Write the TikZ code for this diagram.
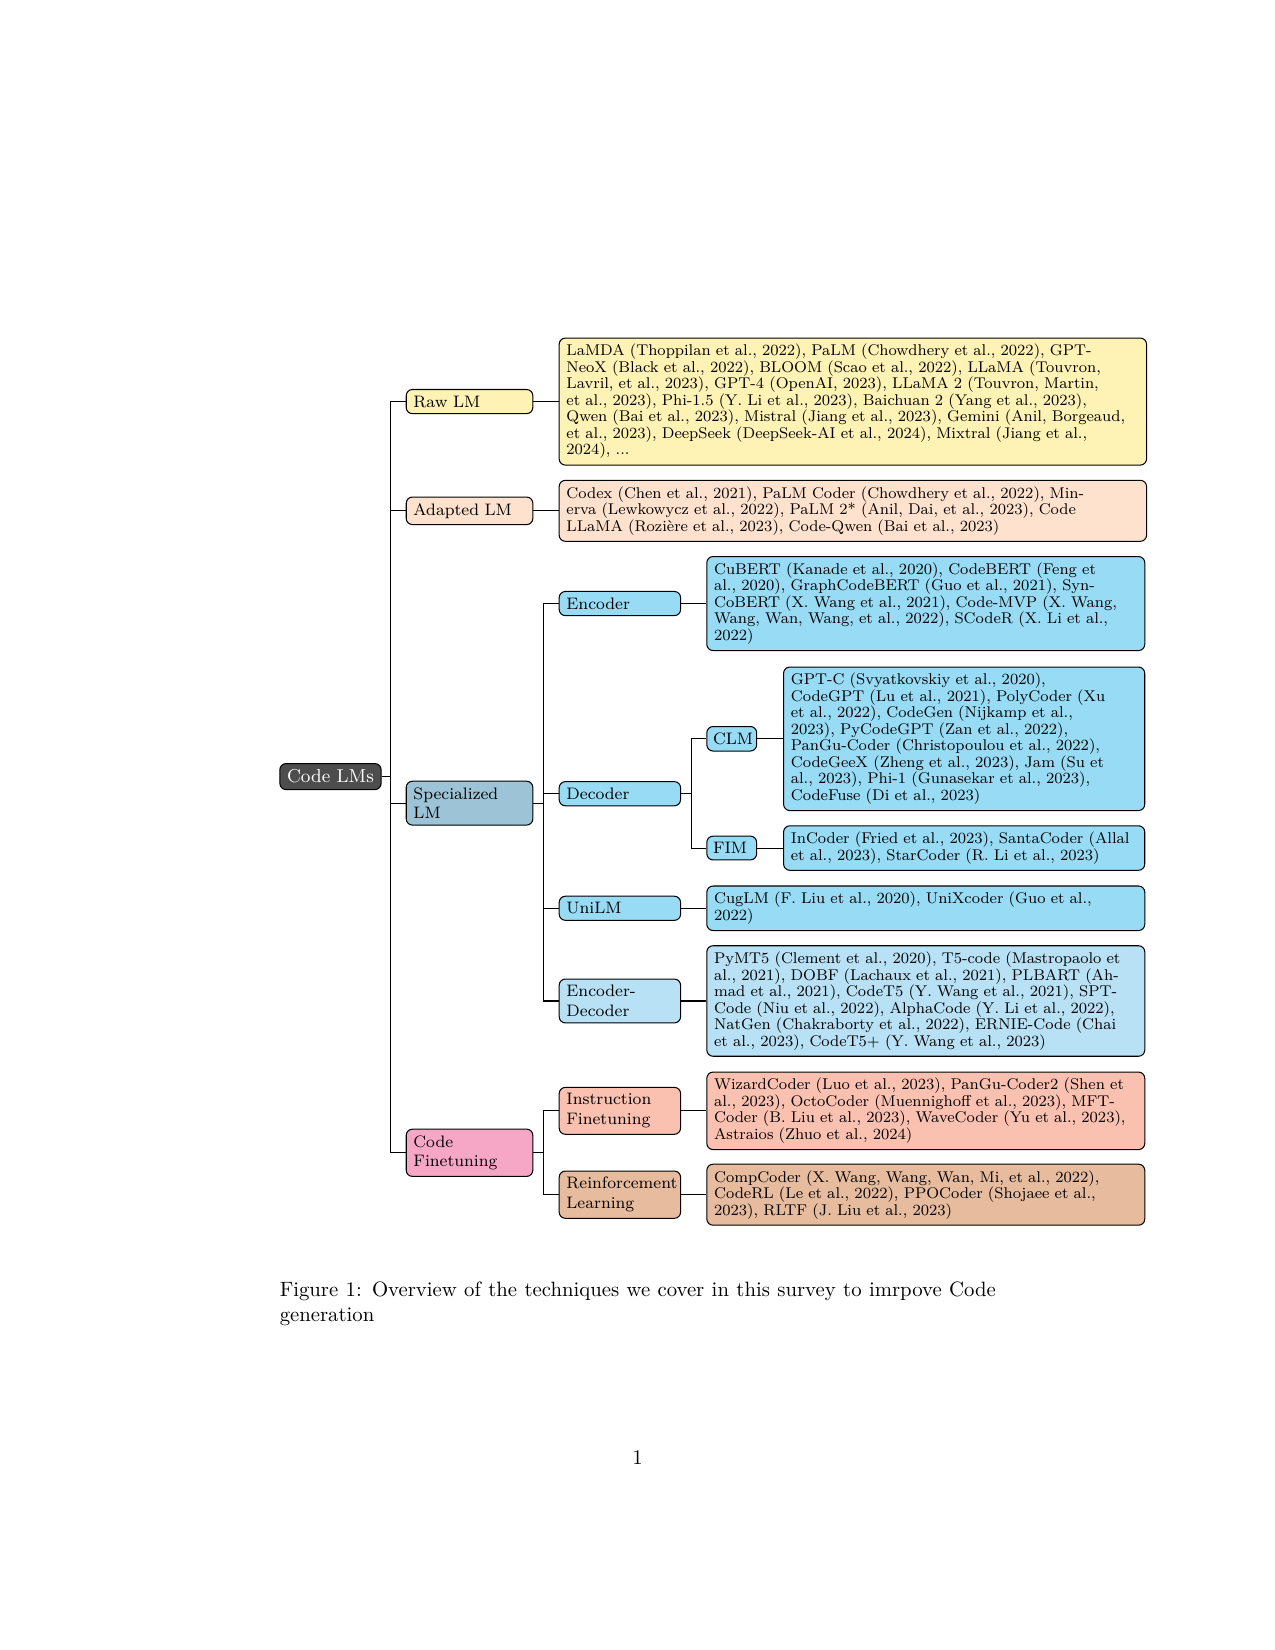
\documentclass[tikz,border=0pt]{standalone}
\usepackage{tikz}
\usepackage{xcolor}
\definecolor{rootgray}{RGB}{77,77,77}
\definecolor{rawyellow}{RGB}{255,242,181}
\definecolor{adaptpeach}{RGB}{255,226,205}
\definecolor{specblue}{RGB}{157,195,214}
\definecolor{archblue}{RGB}{152,219,245}
\definecolor{encdecblue}{RGB}{184,225,245}
\definecolor{tunepink}{RGB}{246,167,197}
\definecolor{instsalmon}{RGB}{250,192,176}
\definecolor{rltan}{RGB}{231,187,157}

\begin{document}
\begin{tikzpicture}[
  box/.style={draw, rounded corners=3pt, line width=0.5pt, anchor=west, align=left, inner xsep=3.5pt, inner ysep=3pt},
  rootbox/.style={box, fill=rootgray, text=white, font=\small},
  cat/.style={box, font=\footnotesize, text width=54pt},
  subcat/.style={box, font=\footnotesize, text width=51.5pt},
  subsubcat/.style={box, font=\footnotesize, text width=18pt, inner xsep=3pt},
  leaf/.style={box, font={\fontsize{7.5}{7.95}\selectfont}},
  link/.style={line width=0.5pt}
]
\useasboundingbox (0,0) rectangle (21.59,-27.94);

\node at (4.73, -13.15) [rootbox] (codelms) {Code LMs};

\node at (6.87, -6.80) [cat, fill=rawyellow] (raw) {Raw LM};
\node at (6.87, -8.65) [cat, fill=adaptpeach] (adapted) {Adapted LM};
\node at (6.87, -13.60) [cat, fill=specblue] (special) {Specialized\\LM};
\node at (6.87, -19.52) [cat, fill=tunepink] (finetune) {Code\\Finetuning};

\node at (9.46, -10.22) [subcat, fill=archblue] (encoder) {Encoder};
\node at (9.46, -13.44) [subcat, fill=archblue] (decoder) {Decoder};
\node at (9.46, -15.38) [subcat, fill=archblue] (unilm) {UniLM};
\node at (9.46, -16.95) [subcat, fill=encdecblue] (encdec) {Encoder-\\Decoder};
\node at (9.46, -18.81) [subcat, fill=instsalmon] (instruct) {Instruction\\Finetuning};
\node at (9.46, -20.23) [subcat, fill=rltan] (reinforce) {Reinforcement\\Learning};

\node at (11.96, -12.51) [subsubcat, fill=archblue] (clm) {CLM};
\node at (11.96, -14.36) [subsubcat, fill=archblue] (fim) {FIM};

\node at (9.46, -6.80) [leaf, fill=rawyellow, text width=276pt] (rawleaf) {LaMDA (Thoppilan et al., 2022), PaLM (Chowdhery et al., 2022), GPT-\\NeoX (Black et al., 2022), BLOOM (Scao et al., 2022), LLaMA (Touvron,\\Lavril, et al., 2023), GPT-4 (OpenAI, 2023), LLaMA 2 (Touvron, Martin,\\et al., 2023), Phi-1.5 (Y. Li et al., 2023), Baichuan 2 (Yang et al., 2023),\\Qwen (Bai et al., 2023), Mistral (Jiang et al., 2023), Gemini (Anil, Borgeaud,\\et al., 2023), DeepSeek (DeepSeek-AI et al., 2024), Mixtral (Jiang et al.,\\2024), ...};
\node at (9.46, -8.65) [leaf, fill=adaptpeach, text width=276pt] (adaptedleaf) {Codex (Chen et al., 2021), PaLM Coder (Chowdhery et al., 2022), Min-\\erva (Lewkowycz et al., 2022), PaLM 2* (Anil, Dai, et al., 2023), Code\\LLaMA (Rozière et al., 2023), Code-Qwen (Bai et al., 2023)};
\node at (11.96, -10.22) [leaf, fill=archblue, text width=204pt] (encoderleaf) {CuBERT (Kanade et al., 2020), CodeBERT (Feng et\\al., 2020), GraphCodeBERT (Guo et al., 2021), Syn-\\CoBERT (X. Wang et al., 2021), Code-MVP (X. Wang,\\Wang, Wan, Wang, et al., 2022), SCodeR (X. Li et al.,\\2022)};
\node at (13.26, -12.51) [leaf, fill=archblue, text width=167pt] (clmleaf) {GPT-C (Svyatkovskiy et al., 2020),\\CodeGPT (Lu et al., 2021), PolyCoder (Xu\\et al., 2022), CodeGen (Nijkamp et al.,\\2023), PyCodeGPT (Zan et al., 2022),\\PanGu-Coder (Christopoulou et al., 2022),\\CodeGeeX (Zheng et al., 2023), Jam (Su et\\al., 2023), Phi-1 (Gunasekar et al., 2023),\\CodeFuse (Di et al., 2023)};
\node at (13.26, -14.36) [leaf, fill=archblue, text width=167pt] (fimleaf) {InCoder (Fried et al., 2023), SantaCoder (Allal\\et al., 2023), StarCoder (R. Li et al., 2023)};
\node at (11.96, -15.38) [leaf, fill=archblue, text width=204pt] (unileaf) {CugLM (F. Liu et al., 2020), UniXcoder (Guo et al.,\\2022)};
\node at (11.96, -16.95) [leaf, fill=encdecblue, text width=204pt] (encdecleaf) {PyMT5 (Clement et al., 2020), T5-code (Mastropaolo et\\al., 2021), DOBF (Lachaux et al., 2021), PLBART (Ah-\\mad et al., 2021), CodeT5 (Y. Wang et al., 2021), SPT-\\Code (Niu et al., 2022), AlphaCode (Y. Li et al., 2022),\\NatGen (Chakraborty et al., 2022), ERNIE-Code (Chai\\et al., 2023), CodeT5+ (Y. Wang et al., 2023)};
\node at (11.96, -18.81) [leaf, fill=instsalmon, text width=204pt] (instructleaf) {WizardCoder (Luo et al., 2023), PanGu-Coder2 (Shen et\\al., 2023), OctoCoder (Muennighoff et al., 2023), MFT-\\Coder (B. Liu et al., 2023), WaveCoder (Yu et al., 2023),\\Astraios (Zhuo et al., 2024)};
\node at (11.96, -20.23) [leaf, fill=rltan, text width=204pt] (reinforceleaf) {CompCoder (X. Wang, Wang, Wan, Mi, et al., 2022),\\CodeRL (Le et al., 2022), PPOCoder (Shojaee et al.,\\2023), RLTF (J. Liu et al., 2023)};

\coordinate (j0) at (6.62, -13.15);
\coordinate (j1) at (9.21, -13.60);
\coordinate (j2) at (9.21, -19.52);
\coordinate (j3) at (11.71, -13.44);

\draw [link] (codelms.east) -- (j0) |- (raw.west);
\draw [link] (codelms.east) -- (j0) |- (adapted.west);
\draw [link] (codelms.east) -- (j0) |- (special.west);
\draw [link] (codelms.east) -- (j0) |- (finetune.west);
\draw [link] (special.east) -- (j1) |- (encoder.west);
\draw [link] (special.east) -- (j1) |- (decoder.west);
\draw [link] (special.east) -- (j1) |- (unilm.west);
\draw [link] (special.east) -- (j1) |- (encdec.west);
\draw [link] (finetune.east) -- (j2) |- (instruct.west);
\draw [link] (finetune.east) -- (j2) |- (reinforce.west);
\draw [link] (decoder.east) -- (j3) |- (clm.west);
\draw [link] (decoder.east) -- (j3) |- (fim.west);
\draw [link] (raw.east) -- (rawleaf.west);
\draw [link] (adapted.east) -- (adaptedleaf.west);
\draw [link] (encoder.east) -- (encoderleaf.west);
\draw [link] (clm.east) -- (clmleaf.west);
\draw [link] (fim.east) -- (fimleaf.west);
\draw [link] (unilm.east) -- (unileaf.west);
\draw [link] (encdec.east) -- (encdecleaf.west);
\draw [link] (instruct.east) -- (instructleaf.west);
\draw [link] (reinforce.east) -- (reinforceleaf.west);

\node at (4.73, -21.70) [anchor=north west, text width=345pt, align=justify, inner sep=0pt] (caption) {Figure 1: Overview of the techniques we cover in this survey to imrpove Code generation};
\node at (10.795, -24.80) [anchor=base] (pagenum) {1};
\end{tikzpicture}
\end{document}
